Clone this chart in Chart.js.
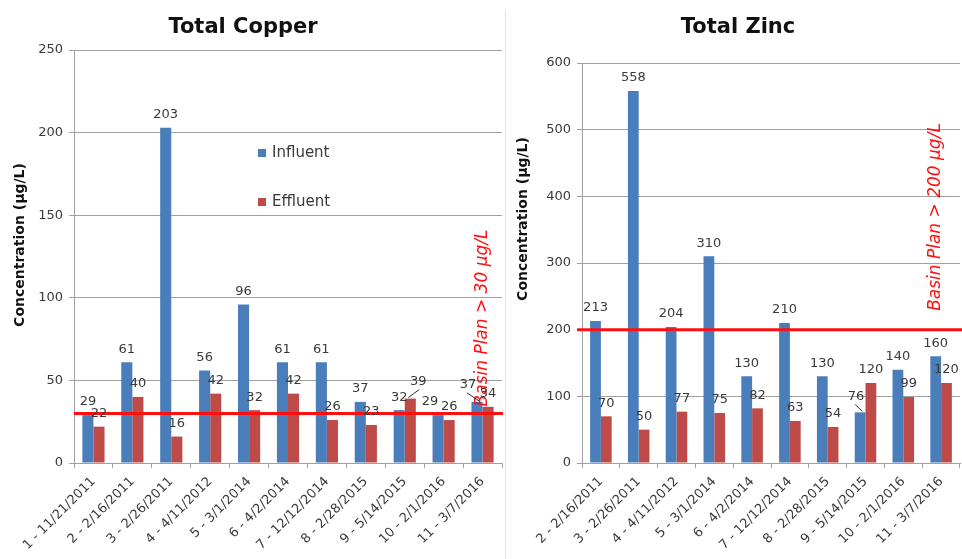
<!DOCTYPE html>
<html>
<head>
<meta charset="utf-8">
<title>Total Copper and Total Zinc</title>
<script src="https://cdn.jsdelivr.net/npm/chart.js@4.4.1/dist/chart.umd.min.js"></script>
<style>
  html, body { margin: 0; padding: 0; background: #ffffff; }
  #wrap { position: relative; width: 962px; height: 559px; overflow: hidden; }
  #copperBox { position: absolute; left: 0; top: 0; width: 503px; height: 559px; }
  #zincBox { position: absolute; left: 503px; top: 0; width: 459px; height: 559px; }
  #divider { position: absolute; left: 505px; top: 10px; width: 1px; height: 549px; background: #e4e4e4; }
</style>
</head>
<body>
<div id="wrap">
  <div id="copperBox"><canvas id="copper" width="503" height="559"></canvas></div>
  <div id="divider"></div>
  <div id="zincBox"><canvas id="zinc" width="459" height="559"></canvas></div>
</div>
<script>
// Sampling events (event number - date)
const copperEvents = ['1 - 11/21/2011', '2 - 2/16/2011', '3 - 2/26/2011', '4 - 4/11/2012', '5 - 3/1/2014',
  '6 - 4/2/2014', '7 - 12/12/2014', '8 - 2/28/2015', '9 - 5/14/2015', '10 - 2/1/2016', '11 - 3/7/2016'];
const copperInfluent = [29, 61, 203, 56, 96, 61, 61, 37, 32, 29, 37];
const copperEffluent = [22, 40, 16, 42, 32, 42, 26, 23, 39, 26, 34];

const zincEvents = ['2 - 2/16/2011', '3 - 2/26/2011', '4 - 4/11/2012', '5 - 3/1/2014', '6 - 4/2/2014',
  '7 - 12/12/2014', '8 - 2/28/2015', '9 - 5/14/2015', '10 - 2/1/2016', '11 - 3/7/2016'];
const zincInfluent = [213, 558, 204, 310, 130, 210, 130, 76, 140, 160];
const zincEffluent = [70, 50, 77, 75, 82, 63, 54, 120, 99, 120];

// Axis ranges (µg/L)
const copperAxisMax = 250, copperAxisStep = 50;
const zincAxisMax = 600, zincAxisStep = 100;

// Basin Plan objectives (µg/L)
const copperLimit = 30;
const zincLimit = 200;

const FONT = "'DejaVu Sans', 'Open Sans', sans-serif";
const BLUE = '#4a7ebb';
const RED = '#be4b48';
const GRID = '#a0a0a0';
const TEXT = '#3a3a3a';
const LIMIT_RED = '#ff1010';

Chart.defaults.font.family = FONT;
Chart.defaults.color = TEXT;

// Draws titles, the limit line, value labels and the legend on top of the bars
const decorPlugin = {
  id: 'decor',
  afterDatasetsDraw(chart, args, o) {
    const ctx = chart.ctx;
    const area = chart.chartArea;
    const y = chart.scales.y;
    ctx.save();

    // chart title
    ctx.fillStyle = '#111';
    ctx.font = 'bold 21px ' + FONT;
    ctx.textAlign = 'center';
    ctx.textBaseline = 'middle';
    ctx.fillText(o.title, o.titleX, 28);

    // vertical axis title
    ctx.save();
    ctx.translate(20, o.axisTitleY);
    ctx.rotate(-Math.PI / 2);
    ctx.font = 'bold 14px ' + FONT;
    ctx.fillStyle = '#111';
    ctx.fillText('Concentration (µg/L)', 0, 0);
    ctx.restore();

    // Basin Plan limit line
    const ly = y.getPixelForValue(o.limit);
    ctx.strokeStyle = LIMIT_RED;
    ctx.lineWidth = 3;
    ctx.beginPath();
    ctx.moveTo(area.left - o.lineLead, ly);
    ctx.lineTo(chart.width, ly);
    ctx.stroke();

    // Basin Plan label
    ctx.save();
    ctx.translate(o.limitTextX, o.limitTextY);
    ctx.rotate(-Math.PI / 2);
    ctx.font = 'italic 17px ' + FONT;
    ctx.fillStyle = LIMIT_RED;
    ctx.textAlign = 'center';
    ctx.fillText(o.limitText, 0, 0);
    ctx.restore();

    // value labels
    ctx.font = '13px ' + FONT;
    ctx.fillStyle = TEXT;
    ctx.textAlign = 'center';
    ctx.textBaseline = 'middle';
    chart.data.datasets.forEach((ds, di) => {
      const meta = chart.getDatasetMeta(di);
      meta.data.forEach((bar, i) => {
        const n = (o.nudges || []).find(v => v.ds === di && v.i === i) || { dx: 0, dy: 0 };
        const tx = bar.x + n.dx;
        const ty = bar.y - 13 + n.dy;
        ctx.fillText(String(ds.data[i]), tx, ty);
        if (n.leader) {
          const s = Math.sign(n.dx);
          ctx.strokeStyle = '#333';
          ctx.lineWidth = 1;
          ctx.beginPath();
          ctx.moveTo(bar.x - 2 * s, bar.y - 1);
          ctx.lineTo(tx + s, ty + 8);
          ctx.stroke();
        }
      });
    });

    // legend
    if (o.legend) {
      ctx.font = '15px ' + FONT;
      ctx.textAlign = 'left';
      o.legend.forEach(item => {
        ctx.fillStyle = item.color;
        ctx.fillRect(item.x, item.y - 4, 8, 8);
        ctx.fillStyle = TEXT;
        ctx.fillText(item.text, item.x + 14, item.y);
      });
    }
    ctx.restore();
  }
};

function buildChart(id, events, influent, effluent, axisMax, axisStep, yWidth, padTop, padRight, decor) {
  return new Chart(document.getElementById(id), {
    type: 'bar',
    data: {
      labels: events,
      datasets: [
        { label: 'Influent', data: influent, backgroundColor: BLUE },
        { label: 'Effluent', data: effluent, backgroundColor: RED }
      ]
    },
    options: {
      responsive: false,
      animation: false,
      events: [],
      layout: { autoPadding: false, padding: { top: padTop, right: padRight, left: 0, bottom: 0 } },
      datasets: { bar: { categoryPercentage: 0.57, barPercentage: 1 } },
      plugins: { legend: { display: false }, title: { display: false }, tooltip: { enabled: false }, decor },
      scales: {
        x: {
          grid: { display: true, drawOnChartArea: false, drawTicks: true, tickLength: 5, color: GRID },
          border: { display: true, color: GRID, width: 1 },
          ticks: { autoSkip: false, minRotation: 45, maxRotation: 45, padding: 6, color: TEXT, font: { size: 13 } },
          afterFit(s) { s.height = 96; }
        },
        y: {
          min: 0, max: axisMax,
          grid: { color: GRID, tickLength: 5, drawTicks: true },
          border: { display: true, color: GRID, width: 1 },
          ticks: { stepSize: axisStep, padding: 6, color: TEXT, font: { size: 13 } },
          afterFit(s) { s.width = yWidth; }
        }
      }
    },
    plugins: [decorPlugin]
  });
}

buildChart('copper', copperEvents, copperInfluent, copperEffluent, copperAxisMax, copperAxisStep, 74, 50, 1, {
  title: 'Total Copper', titleX: 243, axisTitleY: 245,
  limit: copperLimit, limitText: 'Basin Plan > 30 µg/L', limitTextX: 483, limitTextY: 318, lineLead: 0,
  nudges: [
    { ds: 1, i: 8, dx: 8, dy: -4, leader: true },
    { ds: 0, i: 9, dx: -8, dy: 0 },
    { ds: 0, i: 10, dx: -9, dy: -4, leader: true }
  ],
  legend: [
    { text: 'Influent', color: BLUE, x: 258, y: 153 },
    { text: 'Effluent', color: RED, x: 258, y: 202 }
  ]
});

buildChart('zinc', zincEvents, zincInfluent, zincEffluent, zincAxisMax, zincAxisStep, 79, 63, 2, {
  title: 'Total Zinc', titleX: 235, axisTitleY: 219,
  limit: zincLimit, limitText: 'Basin Plan > 200 µg/L', limitTextX: 433, limitTextY: 217, lineLead: 5,
  nudges: [
    { ds: 0, i: 7, dx: -4, dy: -3, leader: true }
  ]
});
</script>
</body>
</html>
